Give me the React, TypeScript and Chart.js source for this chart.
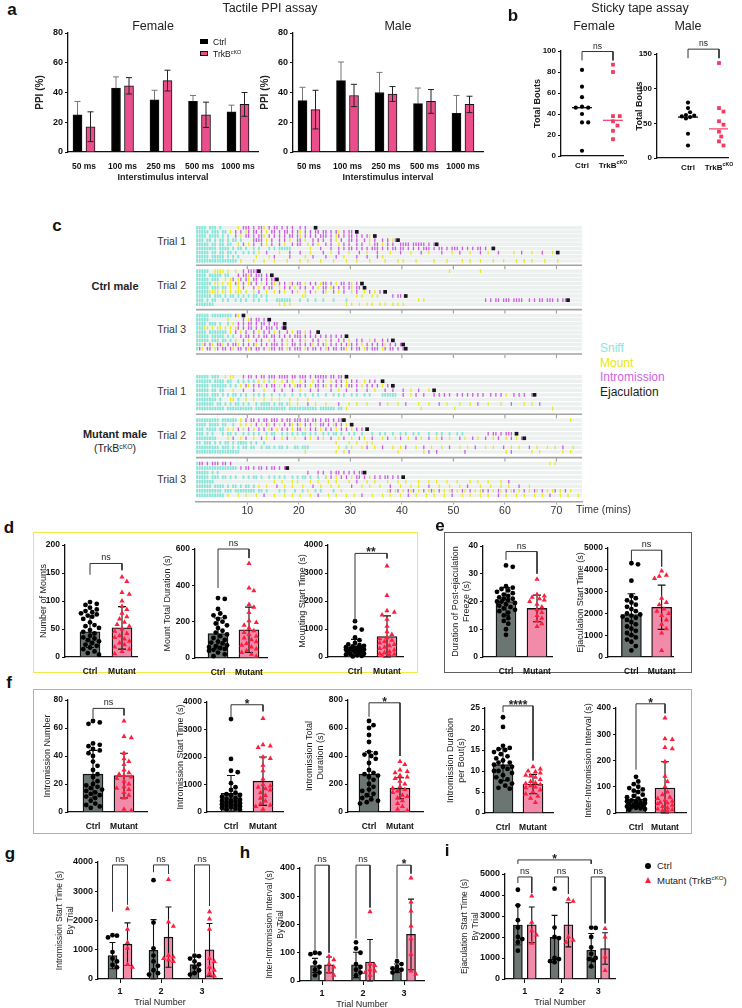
import React, { useEffect, useMemo, useRef } from 'react';
import { Chart, registerables } from 'chart.js';

Chart.register(...registerables);

const FONT = "'Liberation Sans', Arial, Helvetica, sans-serif";
Chart.defaults.font.family = FONT;
Chart.defaults.color = '#111';

/* ======================= DATA ======================= */

// (a) Tactile PPI assay (mean, error)
const ISI_LABELS = ['50 ms', '100 ms', '250 ms', '500 ms', '1000 ms'];
const PPI_MAX = 80;
const PPI_STEP = 20;
const PPI_F_CTRL = [25, 43, 35, 34, 27];
const PPI_F_CTRL_ERR = [9, 7.5, 6.5, 4, 4.5];
const PPI_F_KO = [17, 44.5, 48, 25, 32];
const PPI_F_KO_ERR = [10, 5.5, 7, 8.5, 8];
const PPI_M_CTRL = [34.5, 48, 40, 32.5, 26];
const PPI_M_CTRL_ERR = [9, 12.5, 13.5, 10.5, 12];
const PPI_M_KO = [28.5, 38, 39, 34, 32];
const PPI_M_KO_ERR = [13, 7.5, 5, 8, 5.5];

// (b) Sticky tape assay (total bouts per animal, group line)
const STB_F_CTRL = [82, 66, 56, 47, 46, 46, 40, 32, 32, 5];
const STB_F_KO = [87, 80, 38, 38, 33, 29, 24, 16];
const STB_F_LINE = [46, 34];
const STB_F_SIG = ['ns', 99.5, 91, 91];
const STB_M_CTRL = [80, 72, 66, 62, 61, 60, 59, 57, 35, 18];
const STB_M_KO = [137, 72, 67, 53, 48, 38, 31, 24, 18];
const STB_M_LINE = [59, 42];
const STB_M_SIG = ['ns', 157, 144, 144];

// (c) Ethogram: each row = list of [start minute, pattern]; one char per 0.5 min
// s = sniff, m = mount, i = intromission, e = ejaculation, . = nothing
const TIME_TICKS = [10, 20, 30, 40, 50, 60, 70];
const CTRL_T1 = [
  [[0, 'ssss.sss.s'], [8, 'm.iii.i.iim.i.ii.i.i.i..i.i...e']],
  [[0, 'sssss.sss.' + 'ss.m.i.i.m' + 'i.ii.i.m.i' + 'i.i.ii.i.i' + 'm.i.i.ii.i' + 'i.i.im.i.i' + 'i.e']],
  [[0, 'ssss.ssss.' + 's.s..i.m.i' + 'i.i.iim.i.' + 'i.i.i.ii.i' + 'm.i.i.i.ii' + 'i.i.mi.i.i' + 'i.i.i.im.e']],
  [[0, 'sss.ss.s.s' + 's.s.ss.s..' + '..iiii.m.i' + '..i.i.m..i' + 'i.m..i.i.i' + '..i.m.i..i' + 'i.i..i.m.i' + '..i.i.mie']],
  [[0, 'sssss.ss.s' + 's.ss..m.i.' + 'm.i..i.m.i' + '..i.m..i.i' + 'i..m.i.m..' + 'i.i..m.i.i' + '..i.i..m.i' + 'i.m.i.i..i' + 'iii.iiiii.' + 'i.ie']],
  [[0, 'ssssssss.s' + 'sss.s.ss.s' + '..s.s...s.' + 's.sssss...' + '....m...i.' + '..i..i.i.i' + 'i.i.i.i.ii' + 'i.i.i.ii.i' + 'i.i.i.i.ii' + 'i.i.ii.i.i' + 'ii.i.i.i.i' + 'i.i..e']],
  [[0, 'sssss.ss.s' + 's.ss.s..s.' + 's.s.m..i..' + '..m...i...' + 'i...m....i' + '..m..i...m' + '...i..m...' + 'i....m...i' + '...m...i..' + 'm....i...m' + '..i...m...' + 'i..m...i..' + '...m..i...' + 'm...i...m.' + 'e']],
  [[0, 'sssss.ssss' + 's.s.s.s...' + '...m....m.' + 'i.....i...' + '..m..i....' + 'i...i..m..' + '..i...i...' + 'i.m']],
  [[0, 'ssssssssss' + 'ssssss.m..' + '..m...m...' + 'm....m....' + 'm..m....m.' + '...m....m.' + '..m....m..' + '...m....m.' + 'm....m....' + '..m....m..' + '...m..m...' + 'm....m...m' + '....m..m..' + 'm....m....' + 'm']],
];
const CTRL_T2 = [
  [[0, 'sssss..mmm' + 'm.m..m..i.' + 'iiiie'], [49, 'm'], [55, 'm']],
  [[0, 'ssss.sssss' + '.ss...i.ii' + 'mi.iii.i.e']],
  [[0, 'sssss.sss.' + '.m.mi.mi.i' + 'm.ii.i.i.i' + 'ie']],
  [[0, 'ssssss.mm.' + 'm.mm.im.i.' + 'mi.i.m.i.i' + 'm.i.i.mi.i' + 'i.m.i.i.mi' + 'i.i.m.ii.i' + 'm.i.e']],
  [[0, 'sssss.sss.' + 'ss.m..m.i.' + '..i.m.i.ii' + '..m.i.i.m.' + 'i.i..i.m.i' + 'i.mi.i.i.i' + 'm.ii.e']],
  [[0, 'sssssmmmm.' + 'mm.m.mmm.m' + '..m.i..m..' + 'm.i.m..i.m' + '..m.i.m..i' + 'm..i.m.i..' + 'm.i..m.i.m' + '.i.e']],
  [[0, 'ssssss.sss' + '.s.ss.s.s.' + 's.ss.s.s'], [20.5, 'mm'], [31, 'm.m...m.m'], [38, 'i.ii.e']],
  [[0, 'sss.s.ss..' + 's.s..s.s.s' + '..s.s..s..' + '.ssssss...' + 's..s..s..s' + '...s....s.'], [43, 'm.m'], [56, 'i.i.ii.iii' + '.iiii..i.i' + '.ii.iii.i.' + 'iie']],
  [[0, 'sssssss'], [16, 'm.m.m'], [29, 'm.m..m..m.' + 'm..m.m..m.' + 'm.m']],
];
const CTRL_T3 = [
  [[0, 'sssss.ssss' + 'ssss.im.e']],
  [[0, 'sssss'], [6, 'm'], [9, 'i.mi.ii.i.e']],
  [[0, 'ssss.sss.s' + '..s.m'], [8, 'i.i.ii.i.i' + 'i.i.ii..e']],
  [[0, 'sssmm.m.mm' + '.m.m.mi.i.' + 'ii.i.i.iii' + '.i.ie']],
  [[0, 'ssss.sssss' + 'ss.m.i.m.i' + '..i.m.i.i.' + 'm.i..i.m.i' + 'i.m.i..e']],
  [[0, 'sssss.ssss' + 's.s.s..i.i' + 'i.i.i.ii.i' + 'i.i.i.i.ii' + 'i.i.i.i.i.' + 'i.i.i.i.e']],
  [[0, 'sssss.sss.' + 'ss.s.m..i.' + 'm..i.i..m.' + 'i..i.m.i..' + 'i.m..i.i..' + 'm.i..i.i.m' + '..i.i..m.i' + '..i.i.e']],
  [[0, 'ssmi.im.ii' + 'm.i.iim.i.' + 'i.im.i.i.i' + 'ii.i.m.ii.' + 'i.i.im.i.i' + 'm.i.i.i.im' + 'i.i.m.i.i.' + 'i.im.i.i.i' + 'e']],
  [[0, 'sim.ii.mi.' + 'ii.im.ii.i' + 'mi.ii.i.mi' + 'i.ii.mi.ii' + 'i.mi.ii.i.' + 'mi.ii.iim.' + 'i.ii.mi.ii' + 'i.mi.ii.i.' + 'ie']],
];
const MUT_T1 = [
  [[0, 'sssss.sss.' + '.m.mm...i.' + 'ii.i.ii.ii' + 'i.iiii.ii.' + 'iii.i.iiii' + 'i.ii.ii.e']],
  [[0, 'ssssss.sss' + 's.ss..s.s.' + 's.s.m.m.s.' + 'm..m.i.m..' + 'm.i..m.i.i' + '..m.i.i.m.' + 'i.i..m.i.i' + '..e']],
  [[0, 'sssss.ssss' + 'ss.s.s.m.i' + 'm.i.im.i.i' + 'i.m.i.i.mi' + 'i.i.m.ii.i' + 'm.i.i.i.mi' + 'i.i.m.i.i.' + 'i.m.i.e']],
  [[0, 'sssss.ss.s' + 's...m...i.' + '..i...m...' + 'i..i...i..' + 'm...i..i..' + '..i..m..i.' + '..i...i..m' + '...i..i...' + 'i..m..i...' + 'm.e']],
  [[0, 'sssss.sss.' + 's.s.ss.s.s' + '..s.s.s..s' + '..s.s..s..' + 's.s..s.s..' + 's..s.s.s..' + 's.s..s.s..' + '..ssssss'], [40, 'i..m.i..i.' + '..i.i.i.i.' + '.i.i.i.i.i' + '.i..i.i.i.' + 'm..i.i.i..' + 'ie']],
  [[0, 'ssssssss.s' + '...mm.s..m' + '..m...m..m' + '..m...m..m' + '...m']],
  [[0, 'sssssss.ss' + '.s.s.ss.s.' + 's..s.ssss.' + 's.ss.s'], [18, 'm..m...i..' + 'm...m....i' + '...m..m...' + 'm....i..m.' + '..m..i....' + 'm...m...i.' + '.m....m...' + 'm..i...m..' + '..m...i...' + '.m..m..i']],
  [[0, 'ssssssssss' + 's.ssssssss' + 'ss.sssssss' + 'sssss.ssss' + 'sssssss.ss' + 'ssss.ss'], [29, 'm'], [43.5, 'm'], [50, 'm'], [69, 'm']],
];
const MUT_T2 = [
  [[0, 'sssssssss.' + 'ssssss.m.i' + '.ii.i.ii.i' + 'ii.i.ii.ii' + 'i.ii.ii.i.' + 'ii.i.iie'], [72.5, 'm']],
  [[0, 'ssss.ssss.' + 'ss..s..m.m' + '.m.i.m.im.' + 'i.m.i.im.i' + 'm.i.i.m.ii' + '.i.mi.i.m.' + 'e']],
  [[0, 'sss.ssss.s' + 's.m.m.i.m.' + 'i.m.i.i.mi' + '.m.i.i.m.i' + 'i.m.i.i.m.' + 'i.i.m.i.i.' + 'm.i.i.e']],
  [[0, 'sss.s.s...' + 's.ss.s..s.' + 's.s.s..s.s' + 's..s.s.s.s' + '.ss.s.s..s' + '.s.ss.s..s' + '.s..s...s.' + '.s.s..s..s' + '.s..s.s...' + 's..s.s..s.' + '.s.s'], [56.5, 'i.ii.i.iii' + '.e']],
  [[0, 'ssssssss..' + '..m.i..m.i' + '..m..i.m..' + 'i..m.i..m.' + '..i.m..i.m' + '..i..m.i..' + 'm..i.m..i.' + '..m.i..m.i' + '..m..i.m..' + 'i..m.i..m.' + '..i.m..i.m' + '..i..m.i..' + 'm.i.m.ie']],
  [[0, 'ss.sss.s.s' + '.ss.s.ssss' + '.s.s..s'], [27, 'm....m..m.' + '..m.m']],
  [[0, 'sssssssss.' + 'sss.s.s.ss' + '.ss..s.ss.' + 's.ss.s..ss' + '.sss'], [27.5, 'm..s.m...m' + '.i..m..i..' + '.m..m.i...' + 'm..i..m...' + 'm..i...m..' + 'm..i...m..' + 'm...i..m..' + 'm...i..m..' + '.m..m..i..' + '.m.']],
  [[0, 'ssssssssss' + 'sssssss'], [21, 'm'], [27, 'm..m.i'], [39, 'm'], [44, 'm.i..i'], [52, 'i'], [60, 'm.i'], [65, 'm..m'], [71, 'm..m']],
];
const MUT_T3 = [
  [[0, 'sii.i.iii.' + 'ii.i'], [68.5, 'm.m']],
  [[0, 'ssssssssss' + 'ssssss.i.i' + 'i.i.ii.i.i' + 'i.i.ie']],
  [[0, 'sssss.s.s'], [21.5, 'i...i.i..i' + '.ii.i.i.i.' + 'iie']],
  [[0, 'sssss.sss.' + 'ss.s.s..s.' + 's.ss.s..s.' + 's.s.s..s.s' + '.ss.s..s..' + 's'], [25, 'm.i.m.i.i.' + 'm.ii.i.m.i' + '.i.ii.i.i.' + 'e']],
  [[0, 'sssssss'], [15, 'm..m...m.m' + '....m..m..' + '.m..m....m' + '..i...m..m' + '....m...m.' + '.m....m...' + 'm..m...m..' + '.m....m..m' + '...m....m.' + '.i']],
  [[0, 'ssssss.sss' + 's.s.ss.s.s' + 's.s'], [12, 'm..m...i..' + 'm..m...m..' + '.i..m...m.' + '.m....i...' + 'm..m...m..' + '.i...m...m' + '..m...i...' + 'm...m...m.' + '.i....m...' + 'm...m..m..' + '.i...m']],
  [[0, 'ssssssssss' + '.sss.sssss' + 'sss.ss.s'], [16, 's.s...s..s' + '.m..s.s...' + '.s..m'], [37, 'mi.mi.m.im' + 'i.m.i.mim.' + 'i.m.mi.m.i' + 'm.i.m.mi.i' + '.m.im.i.mi' + '.m.i.m.im.' + 'i.m.mi.m.i' + '.m']],
  [[0, 'ssssssssss' + 's'], [6, 'm...m..m..' + '.m..i...m.' + '..m..m..m.' + '..m..i...m' + '..m...m..m' + '..i...m...' + 'm..m...m..' + 'i..m...m..' + 'm...m..i..' + '.m..m...m.' + '.m...i..m.' + '..m..m...m' + '..m..i...m' + '..m...m..']],
];

// (d)-(f) individual animals, mean, SD, [label, bracket top, left leg, right leg]
const GROUP_LABELS = ['Ctrl', 'Mutant'];
const D1_CTRL = [98, 95, 93, 88, 85, 82, 80, 78, 76, 74, 72, 68, 62, 57, 55, 52, 48, 45, 42, 38, 35, 33, 30, 28, 25, 22, 20, 17, 14, 10, 7, 4];
const D1_MUT = [143, 135, 115, 112, 100, 90, 85, 78, 72, 68, 62, 58, 55, 50, 46, 42, 38, 35, 32, 28, 25, 22, 18, 14, 10, 6];
const D1_MEAN = [45, 52];
const D1_SD = [28, 38];
const D1_SIG = ['ns', 167, 147, 155];
const D2_CTRL = [330, 325, 270, 245, 235, 225, 215, 200, 190, 180, 165, 150, 140, 130, 120, 110, 100, 90, 85, 80, 70, 65, 60, 55, 50, 45, 40, 30, 20, 10];
const D2_MUT = [520, 385, 370, 295, 280, 250, 205, 195, 180, 165, 150, 140, 130, 120, 110, 100, 90, 80, 70, 60, 50, 40, 30, 20, 10];
const D2_MEAN = [135, 155];
const D2_SD = [85, 125];
const D2_SIG = ['ns', 600, 385, 550];
const D3_CTRL = [1280, 1050, 980, 700, 600, 500, 450, 420, 400, 380, 350, 330, 320, 300, 290, 280, 270, 260, 250, 230, 220, 200, 180, 150, 120, 100, 80, 60, 40, 20];
const D3_MUT = [3250, 2200, 1650, 1600, 1500, 1350, 1100, 900, 800, 700, 650, 600, 550, 500, 450, 400, 350, 300, 250, 200, 150, 120, 100, 80, 50];
const D3_MEAN = [340, 730];
const D3_SD = [290, 740];
const D3_SIG = ['**', 3700, 1250, 3520];
const E1_CTRL = [33, 32.5, 25.5, 25, 24.5, 24, 23.5, 23, 22.5, 22, 21.5, 21, 21, 20.5, 20, 20, 19.5, 19, 18.5, 18, 17.5, 17, 16.5, 16, 15, 14, 13, 12, 10, 8];
const E1_MUT = [28, 22.5, 22, 21.5, 21, 20.5, 20, 19, 18, 17, 16, 15, 14, 13, 12, 11];
const E1_MEAN = [20, 17.5];
const E1_SD = [5, 4.8];
const E1_SIG = ['ns', 38, 35, 30];
const E2_CTRL = [4300, 4250, 3500, 2800, 2700, 2600, 2500, 2400, 2300, 2200, 2100, 2000, 1950, 1900, 1850, 1800, 1700, 1600, 1500, 1400, 1300, 1200, 1100, 1000, 900, 800, 700, 500, 300];
const E2_MUT = [3950, 3750, 3700, 3600, 2700, 2500, 2400, 2200, 2100, 2000, 1900, 1700, 1500, 1300, 1100, 300];
const E2_MEAN = [1950, 2280];
const E2_SD = [950, 1015];
const E2_SIG = ['ns', 4900, 4400, 4150];
const F1_CTRL = [65, 64, 63, 49, 48, 47, 45, 44, 42, 40, 36, 33, 30, 27, 25, 22, 20, 19, 18, 17, 16, 15, 14, 13, 12, 11, 10, 8, 6, 5, 4, 3];
const F1_MUT = [65, 54, 53, 42, 38, 36, 34, 30, 28, 27, 26, 25, 24, 22, 20, 18, 17, 16, 14, 12, 10, 2, 1];
const F1_MEAN = [27, 26];
const F1_SD = [17, 16];
const F1_SIG = ['ns', 74, 67, 69];
const F2_CTRL = [3380, 1930, 1500, 1450, 1050, 900, 800, 700, 650, 620, 600, 550, 500, 480, 450, 420, 400, 380, 350, 320, 300, 280, 250, 220, 200, 180, 150, 120, 100, 80];
const F2_MUT = [3400, 2450, 2400, 2350, 2000, 1950, 1700, 1500, 1200, 1000, 950, 900, 850, 800, 700, 600, 500, 400, 300, 250, 200, 100];
const F2_MEAN = [680, 1120];
const F2_SD = [650, 880];
const F2_SIG = ['*', 3900, 3420, 3660];
const F3_CTRL = [650, 620, 600, 550, 500, 430, 420, 410, 400, 380, 350, 300, 280, 270, 260, 250, 230, 200, 180, 160, 150, 130, 120, 100, 90, 80, 70, 60];
const F3_MUT = [360, 340, 300, 290, 280, 260, 250, 240, 220, 200, 180, 170, 160, 150, 140, 120, 110, 100, 80, 60, 40, 20, 10];
const F3_MEAN = [270, 170];
const F3_SD = [160, 75];
const F3_SIG = ['*', 780, 680, 400];
const F4_CTRL = [22.8, 20.5, 16, 15.5, 15.2, 15, 14.5, 14, 13.5, 13, 12.5, 12, 12, 11.5, 11, 11, 10.5, 10, 10, 9.5, 9, 8.5, 8, 7.5, 7, 6.5, 6, 5.8];
const F4_MUT = [11, 10.5, 10, 9.8, 9.5, 9, 8.8, 8.5, 8, 7.5, 7.2, 7, 6.8, 6.5, 6.2, 6, 5.5, 5, 4.5, 4, 3.5, 2.5];
const F4_MEAN = [11.5, 6.9];
const F4_SD = [3.8, 2.3];
const F4_SIG = ['****', 25.5, 24, 12.5];
const F5_CTRL = [138, 120, 110, 100, 95, 90, 85, 80, 70, 65, 60, 55, 50, 48, 45, 42, 40, 38, 35, 32, 30, 28, 25, 22, 20, 18, 15, 12];
const F5_MUT = [362, 283, 280, 250, 245, 195, 140, 120, 100, 80, 70, 60, 55, 50, 45, 40, 38, 35, 30, 25, 20, 15, 12, 10, 8];
const F5_MEAN = [53, 95];
const F5_SD = [32, 100];
const F5_SIG = ['*', 416, 165, 380];

// (g)-(i) by trial
const TRIAL_LABELS = ['1', '2', '3'];
const G_CTRL_T1 = [1500, 1480, 1420, 920, 700, 600, 480, 400];
const G_CTRL_T2 = [3380, 1930, 1050, 800, 600, 450, 300, 200, 150];
const G_CTRL_T3 = [800, 780, 700, 600, 500, 400, 300, 200, 150];
const G_MUT_T1 = [2400, 1700, 1250, 1050, 500, 400];
const G_MUT_T2 = [3400, 1950, 1800, 800, 750, 700, 650, 600];
const G_MUT_T3 = [2300, 2050, 1700, 700, 600, 400, 300, 200, 100];
const G_CTRL_MEAN = [800, 980, 490];
const G_CTRL_SD = [450, 1050, 260];
const G_MUT_MEAN = [1190, 1430, 1000];
const G_MUT_SD = [730, 1030, 900];
const G_SIG = [['ns', 3900, 2300, 2550], ['ns', 3900, 3650, 3600], ['ns', 3900, 900, 2500]];
const H_CTRL_T1 = [100, 98, 95, 65, 50, 40, 30, 20];
const H_CTRL_T2 = [137, 115, 100, 60, 50, 40, 30, 20];
const H_CTRL_T3 = [70, 60, 50, 45, 40, 35, 30];
const H_MUT_T1 = [88, 75, 60, 50, 30, 20];
const H_MUT_T2 = [245, 60, 55, 40, 35, 30, 20];
const H_MUT_T3 = [365, 280, 248, 195, 150, 95, 35, 25];
const H_CTRL_MEAN = [55, 57, 45];
const H_CTRL_SD = [25, 45, 15];
const H_MUT_MEAN = [57, 67, 165];
const H_MUT_SD = [28, 80, 125];
const H_SIG = [['ns', 410, 110, 100], ['ns', 410, 150, 260], ['*', 410, 80, 380]];
const I_CTRL_T1 = [4250, 3500, 2800, 2450, 2000, 1900, 1750, 1350];
const I_CTRL_T2 = [4300, 2450, 2000, 1950, 1000, 950, 850, 800];
const I_CTRL_T3 = [2450, 2430, 2000, 1500, 1200, 1000, 950, 900, 600];
const I_MUT_T1 = [3950, 2700, 2300, 2100, 1700];
const I_MUT_T2 = [3800, 3700, 2000, 1850, 1750];
const I_MUT_T3 = [2400, 2000, 1050, 400];
const I_CTRL_MEAN = [2570, 1980, 1370];
const I_CTRL_SD = [950, 1050, 800];
const I_MUT_MEAN = [2580, 2580, 1450];
const I_MUT_SD = [850, 1050, 750];
const I_SIG = [['ns', 4860, 4570, 4100], ['ns', 4860, 4570, 4050], ['ns', 4860, 2570, 2650]];
const I_SIG_ALL = ['*', 5670, 5480, 5480];

/* ======================= STYLE / LAYOUT ======================= */

const CTRL_BAR = '#6b7572';
const MUT_BAR = '#f28aa9';
const MUT_PT = '#ff1f3d';
const PPI_KO = '#ea4f8b';
const STB_KO = '#f23d62';
const SNIFF_C = '#84e6d7';
const MOUNT_C = '#ebe81c';
const INTRO_C = '#cf58e4';
const EJAC_C = '#1b1320';

const BLOCK_Y = [224, 268, 313, 375, 419, 463];
const ROW_STEP = [4.2, 4.2, 4.2, 4.6, 4.6, 4.6];
const SEP_Y = [262, 307, 352, 413, 457];

type Geo = { axisX: number; x1: number; yTop: number; y0: number; titleX: number };

const GEO_A_F: Geo = { axisX: 68, x1: 258, yTop: 33, y0: 152, titleX: 40 };
const GEO_A_M: Geo = { axisX: 293, x1: 483, yTop: 33, y0: 152, titleX: 265 };
const GEO_B_F: Geo = { axisX: 561, x1: 623, yTop: 51, y0: 156, titleX: 537 };
const GEO_B_M: Geo = { axisX: 657, x1: 728, yTop: 54, y0: 158, titleX: 639 };
const GEO_D1: Geo = { axisX: 65, x1: 137, yTop: 545, y0: 657, titleX: 43 };
const GEO_D2: Geo = { axisX: 195, x1: 267, yTop: 549, y0: 658, titleX: 167 };
const GEO_D3: Geo = { axisX: 328, x1: 403, yTop: 545, y0: 657, titleX: 302 };
const GEO_E1: Geo = { axisX: 483, x1: 552, yTop: 546, y0: 657, titleX: 455 };
const GEO_E2: Geo = { axisX: 608, x1: 675, yTop: 548, y0: 657, titleX: 580 };
const GEO_F1: Geo = { axisX: 68, x1: 147, yTop: 700, y0: 812, titleX: 47 };
const GEO_F2: Geo = { axisX: 207, x1: 283, yTop: 702, y0: 812, titleX: 180 };
const GEO_F3: Geo = { axisX: 348, x1: 423, yTop: 700, y0: 812, titleX: 309 };
const GEO_F4: Geo = { axisX: 485, x1: 553, yTop: 708, y0: 813, titleX: 450 };
const GEO_F5: Geo = { axisX: 616, x1: 686, yTop: 708, y0: 813, titleX: 588 };
const GEO_G: Geo = { axisX: 98, x1: 222, yTop: 862, y0: 979, titleX: 60 };
const GEO_H: Geo = { axisX: 300, x1: 424, yTop: 868, y0: 981, titleX: 270 };
const GEO_I: Geo = { axisX: 505, x1: 615, yTop: 874, y0: 979, titleX: 465 };

const CATS_D1 = [90, 122];
const CATS_D2 = [218, 249];
const CATS_D3 = [355, 387];
const CATS_E1 = [506, 537];
const CATS_E2 = [632, 663];
const CATS_F1 = [93, 124];
const CATS_F2 = [231, 263];
const CATS_F3 = [369, 400];
const CATS_F4 = [503, 533];
const CATS_F5 = [636, 665];
const CATS_G = [120, 161, 202];
const CATS_H = [322, 363, 404];
const CATS_I = [525, 562, 598];

/* ======================= HELPERS ======================= */

function frame(g: Geo, padTop: number, hx: number, titleLh: number, rp = 8) {
  const x = Math.round(g.titleX - titleLh / 2);
  const y = Math.round(g.yTop - padTop);
  const wy = g.axisX - x;
  const pw = g.x1 - g.axisX;
  const ph = g.y0 - g.yTop;
  const pt = g.yTop - y;
  const w = Math.ceil(wy + pw + rp);
  const h = Math.ceil(pt + ph + hx);
  return { x, y, w, h, wy, pt, rp: w - wy - pw, hx: h - pt - ph };
}

function baseOpts(fr: any) {
  return {
    responsive: false,
    animation: false,
    devicePixelRatio: 1,
    events: [],
    layout: { padding: { left: 0, top: fr.pt, right: fr.rp, bottom: 0 } },
  };
}

function yAxis(fr: any, max: number, step: number, title: any, tSize: number, tWeight: any, tickSize: number) {
  return {
    min: 0,
    max,
    ticks: { stepSize: step, callback: (v: any) => String(v), font: { size: tickSize, weight: 'bold' }, color: '#111', padding: 2 },
    grid: { drawOnChartArea: false, drawTicks: true, tickLength: 3, color: '#111', lineWidth: 1 },
    border: { color: '#111', width: 1.3 },
    title: { display: true, text: title, font: { size: tSize, weight: tWeight, lineHeight: 1.2 }, color: '#222', padding: 0 },
    afterFit: (s: any) => { s.width = fr.wy; },
  };
}

function xAxis(fr: any, min: number, max: number, vals: number[], labels: string[], o: any) {
  return {
    type: 'linear',
    offset: false,
    min,
    max,
    afterBuildTicks: (s: any) => { s.ticks = vals.map((v) => ({ value: v })); },
    ticks: {
      display: o.showLabels !== false,
      callback: (_v: any, i: number) => labels[i] ?? '',
      font: { size: o.size || 8.5, weight: 'bold' },
      color: '#111',
      padding: o.pad ?? 5,
      autoSkip: false,
      maxRotation: 0,
      minRotation: 0,
    },
    grid: { display: !!o.tickMarks, offset: false, drawOnChartArea: false, drawTicks: true, tickLength: 4, color: '#111' },
    border: { color: '#111', width: 1.3 },
    title: o.title
      ? { display: true, text: o.title, font: { size: o.titleSize || 9, weight: o.titleWeight || 'normal', lineHeight: 1.2 }, color: '#222', padding: 0 }
      : { display: false },
    afterFit: (s: any) => { s.height = fr.hx; },
  };
}

function swarm(vals: number[], pxY: number, pxX: number, r: number, maxOff: number) {
  const idx = vals.map((_, i) => i).sort((a, b) => vals[b] - vals[a]);
  const placed: { x: number; y: number }[] = [];
  const out = new Array(vals.length).fill(0);
  const cands = [0];
  for (let k = 1; k <= 14; k++) cands.push(k * r * 0.9, -k * r * 0.9);
  for (const i of idx) {
    const y = vals[i] * pxY;
    let best = 0;
    let bestScore = -1;
    for (const c of cands) {
      if (Math.abs(c) > maxOff) continue;
      let md = Infinity;
      for (const p of placed) {
        const d = Math.hypot(p.x - c, p.y - y);
        if (d < md) md = d;
      }
      if (md >= 2 * r) { best = c; break; }
      if (md > bestScore) { bestScore = md; best = c; }
    }
    placed.push({ x: best, y });
    out[i] = best / pxX;
  }
  return out;
}

function errLines(groups: any[], capU: number) {
  const d: any[] = [];
  for (const g of groups) {
    const lo = Math.max(0, g.mean - g.sd);
    const hi = g.mean + g.sd;
    d.push({ x: g.x, y: lo }, { x: g.x, y: hi }, { x: g.x, y: null });
    d.push({ x: g.x - capU, y: hi }, { x: g.x + capU, y: hi }, { x: g.x, y: null });
    d.push({ x: g.x - capU, y: lo }, { x: g.x + capU, y: lo }, { x: g.x, y: null });
  }
  return d;
}

function bracket(x1: number, x2: number, s: any[]) {
  return [{ x: x1, y: s[2] }, { x: x1, y: s[1] }, { x: x2, y: s[1] }, { x: x2, y: s[3] }, { x: x2, y: null }];
}

const sigPlugin = {
  id: 'sig',
  afterDatasetsDraw(chart: any, _a: any, opts: any) {
    const items = opts && opts.items;
    if (!items || !items.length) return;
    const ctx = chart.ctx;
    const xs = chart.scales.x;
    const ys = chart.scales.y;
    ctx.save();
    ctx.fillStyle = '#222';
    ctx.textAlign = 'center';
    ctx.textBaseline = 'alphabetic';
    for (const it of items) {
      const star = String(it.text).indexOf('*') >= 0;
      ctx.font = star ? `bold ${opts.star || 12}px ${FONT}` : `${opts.ns || 9}px ${FONT}`;
      ctx.fillText(it.text, xs.getPixelForValue(it.x), ys.getPixelForValue(it.y) + (star ? 3 : -3));
    }
    ctx.restore();
  },
};

const xLabPlugin = {
  id: 'xlab',
  afterDraw(chart: any, _a: any, o: any) {
    if (!o || !o.items || !o.items.length) return;
    const ctx = chart.ctx;
    const xs = chart.scales.x;
    const y = chart.chartArea.bottom + o.dy;
    ctx.save();
    ctx.fillStyle = '#111';
    ctx.textBaseline = 'middle';
    ctx.textAlign = 'left';
    for (const it of o.items) {
      ctx.font = `bold ${o.size}px ${FONT}`;
      const w1 = ctx.measureText(it.main).width;
      ctx.font = `bold ${o.size * 0.65}px ${FONT}`;
      const w2 = it.sup ? ctx.measureText(it.sup).width : 0;
      const x0 = xs.getPixelForValue(it.v) - (w1 + w2) / 2;
      ctx.font = `bold ${o.size}px ${FONT}`;
      ctx.fillText(it.main, x0, y);
      if (it.sup) {
        ctx.font = `bold ${o.size * 0.65}px ${FONT}`;
        ctx.fillText(it.sup, x0 + w1, y - o.size * 0.38);
      }
    }
    ctx.restore();
  },
};

/* ======================= CHART BUILDERS ======================= */

function ppiBuild(geo: Geo, ctrl: number[], ctrlE: number[], ko: number[], koE: number[]) {
  const fr = frame(geo, 10, 31, 12, 4);
  const first = 16;
  const unit = 38.5;
  const off = 6.5 / unit;
  const xMin = 1 - first / unit;
  const xMax = 5 + (geo.x1 - (geo.axisX + first + 4 * unit)) / unit;
  const bars: any[] = [];
  const colors: string[] = [];
  ISI_LABELS.forEach((_, i) => {
    bars.push({ x: i + 1 - off, y: ctrl[i] }, { x: i + 1 + off, y: ko[i] });
    colors.push('#000', PPI_KO);
  });
  const cg = ctrl.map((m, i) => ({ x: i + 1 - off, mean: m, sd: ctrlE[i] }));
  const kg = ko.map((m, i) => ({ x: i + 1 + off, mean: m, sd: koE[i] }));
  const config = {
    type: 'bar',
    data: {
      datasets: [
        { type: 'bar', data: bars, backgroundColor: colors, borderColor: '#111', borderWidth: 1, barThickness: 9, order: 10 },
        { type: 'line', data: errLines(cg, 3 / unit), borderColor: '#777', borderWidth: 1, pointRadius: 0, order: 12, clip: false },
        { type: 'line', data: errLines(kg, 3 / unit), borderColor: '#222', borderWidth: 1, pointRadius: 0, order: 5, clip: false },
      ],
    },
    options: {
      ...baseOpts(fr),
      plugins: { legend: { display: false }, tooltip: { enabled: false } },
      scales: {
        x: xAxis(fr, xMin, xMax, [1, 2, 3, 4, 5], ISI_LABELS, { size: 8.5, pad: 6, title: 'Interstimulus interval', titleSize: 9, titleWeight: 'bold' }),
        y: yAxis(fr, PPI_MAX, PPI_STEP, 'PPI (%)', 10, 'bold', 9),
      },
    },
  };
  return { fr, config };
}

function stbBuild(geo: Geo, ctrl: number[], ko: number[], line: number[], sig: any[], yMax: number, step: number, c1: number, c2: number) {
  const fr = frame(geo, 18, 16, 10.8, 6);
  const unit = c2 - c1;
  const xMin = 1 - (c1 - geo.axisX) / unit;
  const xMax = 2 + (geo.x1 - c2) / unit;
  const pxY = (geo.y0 - geo.yTop) / yMax;
  const jc = swarm(ctrl, pxY, unit, 2.3, 7);
  const jk = swarm(ko, pxY, unit, 2.5, 7);
  const half = 10 / unit;
  const config = {
    type: 'scatter',
    data: {
      datasets: [
        { type: 'scatter', data: ctrl.map((v, i) => ({ x: 1 + jc[i], y: v })), pointStyle: 'circle', pointRadius: 2.1, backgroundColor: '#000', borderWidth: 0, order: 2, clip: false },
        { type: 'scatter', data: ko.map((v, i) => ({ x: 2 + jk[i], y: v })), pointStyle: 'rect', pointRadius: 2.7, backgroundColor: STB_KO, borderWidth: 0, order: 2, clip: false },
        { type: 'line', data: [{ x: 1 - half, y: line[0] }, { x: 1 + half, y: line[0] }], borderColor: '#000', borderWidth: 1.2, pointRadius: 0, order: 1 },
        { type: 'line', data: [{ x: 2 - half, y: line[1] }, { x: 2 + half, y: line[1] }], borderColor: STB_KO, borderWidth: 1.2, pointRadius: 0, order: 1 },
        { type: 'line', data: bracket(1, 2, sig), borderColor: '#333', borderWidth: 1, pointRadius: 0, order: 1, clip: false },
      ],
    },
    options: {
      ...baseOpts(fr),
      plugins: {
        legend: { display: false },
        tooltip: { enabled: false },
        sig: { items: [{ x: 1.5, y: sig[1], text: sig[0] }], ns: 8.5 },
        xlab: { items: [{ v: 1, main: 'Ctrl' }, { v: 2, main: 'TrkB', sup: 'cKO' }], dy: 10, size: 8 },
      },
      scales: {
        x: xAxis(fr, xMin, xMax, [1, 2], ['', ''], { showLabels: false }),
        y: yAxis(fr, yMax, step, 'Total Bouts', 9, 'bold', 8),
      },
    },
    plugins: [sigPlugin, xLabPlugin],
  };
  return { fr, config };
}

function barDotBuild(o: any) {
  const g: Geo = o.geo;
  const lh = o.titleSize * 1.2;
  const fr = frame(g, o.padTop, o.hx, lh);
  const cats: number[] = o.cats;
  const n = cats.length;
  const unit = cats[1] - cats[0];
  const xMin = 1 - (cats[0] - g.axisX) / unit;
  const xMax = n + (g.x1 - cats[n - 1]) / unit;
  const pxY = (g.y0 - g.yTop) / o.yMax;
  const groups: any[] = o.groups;
  const datasets: any[] = [];
  datasets.push({
    type: 'bar',
    data: groups.map((gr) => ({ x: gr.x, y: gr.mean })),
    backgroundColor: groups.map((gr) => (gr.mut ? MUT_BAR : CTRL_BAR)),
    borderColor: '#111',
    borderWidth: 1.3,
    barThickness: o.barPx,
    order: 10,
  });
  datasets.push({ type: 'line', data: errLines(groups, o.capPx / unit), borderColor: '#111', borderWidth: 1.1, pointRadius: 0, order: 6, clip: false });
  groups.forEach((gr) => {
    const jit = swarm(gr.pts, pxY, unit, gr.mut ? 2.7 : 2.5, o.maxOff);
    datasets.push({
      type: 'scatter',
      data: gr.pts.map((v: number, i: number) => ({ x: gr.x + jit[i], y: v })),
      pointStyle: gr.mut ? 'triangle' : 'circle',
      pointRadius: gr.mut ? 3 : 2.4,
      backgroundColor: gr.mut ? MUT_PT : '#000',
      borderWidth: 0,
      order: 2,
      clip: false,
    });
  });
  const br: any[] = [];
  const items: any[] = [];
  o.sig.forEach((s: any) => {
    br.push(...bracket(s.x1, s.x2, s.v));
    items.push({ x: (s.x1 + s.x2) / 2, y: s.v[1], text: s.v[0] });
  });
  datasets.push({ type: 'line', data: br, borderColor: '#333', borderWidth: 1, pointRadius: 0, order: 1, clip: false });
  const config = {
    type: 'bar',
    data: { datasets },
    options: {
      ...baseOpts(fr),
      plugins: { legend: { display: false }, tooltip: { enabled: false }, sig: { items, ns: 9, star: o.starSize || 12 } },
      scales: {
        x: xAxis(fr, xMin, xMax, cats.map((_, i) => i + 1), o.labels, { size: o.tickSize || 8.5, pad: o.xPad ?? 6, tickMarks: o.tickMarks, title: o.xTitle, titleSize: 9 }),
        y: yAxis(fr, o.yMax, o.step, o.title, o.titleSize, 'normal', o.tickSize || 8.5),
      },
    },
    plugins: [sigPlugin],
  };
  return { fr, config };
}

function twoGroup(geo: Geo, cats: number[], ctrl: number[], mut: number[], mean: number[], sd: number[], sig: any[], yMax: number, step: number, title: any, padTop: number) {
  return () =>
    barDotBuild({
      geo, cats, yMax, step, title, titleSize: 9, padTop, hx: 18, barPx: 20, capPx: 4, maxOff: 9,
      labels: GROUP_LABELS,
      groups: [
        { x: 1, mean: mean[0], sd: sd[0], pts: ctrl, mut: false },
        { x: 2, mean: mean[1], sd: sd[1], pts: mut, mut: true },
      ],
      sig: [{ x1: 1, x2: 2, v: sig }],
    });
}

function trialChart(geo: Geo, cats: number[], offPx: number, ctrlPts: number[][], mutPts: number[][], cMean: number[], cSd: number[], mMean: number[], mSd: number[], sigs: any[], extra: any[] | null, yMax: number, step: number, title: string[]) {
  return () => {
    const unit = cats[1] - cats[0];
    const off = offPx / unit;
    const groups: any[] = [];
    const sig: any[] = [];
    TRIAL_LABELS.forEach((_, k) => {
      groups.push({ x: k + 1 - off, mean: cMean[k], sd: cSd[k], pts: ctrlPts[k], mut: false });
      groups.push({ x: k + 1 + off, mean: mMean[k], sd: mSd[k], pts: mutPts[k], mut: true });
      sig.push({ x1: k + 1 - off, x2: k + 1 + off, v: sigs[k] });
    });
    if (extra) sig.push({ x1: 1 - off, x2: 3 - off, v: extra });
    return barDotBuild({
      geo, cats, yMax, step, title, titleSize: 8.5, padTop: 28, hx: 29, barPx: 9, capPx: 3, maxOff: 6,
      labels: TRIAL_LABELS, groups, sig, tickMarks: true, xTitle: 'Trial Number', xPad: 3, tickSize: 9,
    });
  };
}

function ethogramBuild() {
  const blocks: any[] = [CTRL_T1, CTRL_T2, CTRL_T3, MUT_T1, MUT_T2, MUT_T3];
  const pts: any = { s: [], m: [], i: [], e: [] };
  const bg: any[] = [];
  blocks.forEach((rows: any[], b: number) => {
    rows.forEach((segs: any[], r: number) => {
      const y = BLOCK_Y[b] + r * ROW_STEP[b];
      bg.push({ x: 0, y }, { x: 75, y }, { x: 75, y: null });
      segs.forEach(([t0, pat]: [number, string]) => {
        for (let j = 0; j < pat.length; j++) {
          const list = pts[pat[j]];
          if (list) list.push({ x: t0 + j * 0.5 + 0.25, y });
        }
      });
    });
  });
  const sep: any[] = [];
  const sepTicks: any[] = [];
  SEP_Y.forEach((y) => {
    sep.push({ x: 0, y }, { x: 75, y }, { x: 75, y: null });
    TIME_TICKS.forEach((t) => sepTicks.push({ x: t, y: y + 2.2 }));
  });
  const fr = { x: 190, y: 216, w: 398, h: 306, pt: 2, rp: 4 };
  const tick = (data: any[], color: string, order: number, bw: number) => ({
    type: 'scatter', data, pointStyle: 'line', pointRotation: 90, pointRadius: 1.8,
    borderColor: color, borderWidth: bw, order, clip: false,
  });
  const config = {
    type: 'scatter',
    data: {
      datasets: [
        { type: 'line', data: bg, borderColor: '#ecf1ef', borderWidth: 3.4, pointRadius: 0, order: 20, borderCapStyle: 'butt' },
        { type: 'line', data: sep, borderColor: '#a3a3a3', borderWidth: 1.6, pointRadius: 0, order: 19, borderCapStyle: 'butt' },
        tick(sepTicks, '#a3a3a3', 18, 1.2),
        tick(pts.s, SNIFF_C, 8, 1.8),
        tick(pts.m, MOUNT_C, 6, 1.3),
        tick(pts.i, INTRO_C, 4, 1.3),
        { type: 'scatter', data: pts.e, pointStyle: 'rect', pointRadius: 2.6, backgroundColor: EJAC_C, borderWidth: 0, order: 1, clip: false },
      ],
    },
    options: {
      ...baseOpts(fr),
      plugins: { legend: { display: false }, tooltip: { enabled: false } },
      scales: {
        x: {
          type: 'linear', min: 0, max: 75, offset: false,
          afterBuildTicks: (s: any) => { s.ticks = TIME_TICKS.map((v) => ({ value: v })); },
          ticks: { font: { size: 10.5 }, color: '#333', padding: 0, maxRotation: 0, autoSkip: false },
          grid: { drawOnChartArea: false, drawTicks: true, tickLength: 2.5, color: '#a3a3a3' },
          border: { color: '#a3a3a3', width: 1.6 },
          afterFit: (s: any) => { s.height = 20; },
        },
        y: { display: false, min: 218, max: 502, reverse: true },
      },
    },
  };
  return { fr, config };
}

/* ======================= REACT ======================= */

function ChartCanvas({ build }: { build: () => any }) {
  const ref = useRef<HTMLCanvasElement | null>(null);
  const fr = useMemo(() => build().fr, []);
  useEffect(() => {
    const { config } = build();
    const ch = new Chart(ref.current as HTMLCanvasElement, config);
    return () => ch.destroy();
  }, []);
  return (
    <canvas
      ref={ref}
      width={fr.w}
      height={fr.h}
      style={{ position: 'absolute', left: fr.x, top: fr.y, width: fr.w, height: fr.h }}
    />
  );
}

function T({ x, y, a = 'c', s = 10, w = 400, c = '#111', children }: any) {
  const tx = a === 'l' ? '0' : a === 'r' ? '-100%' : '-50%';
  return (
    <div
      style={{
        position: 'absolute', left: x, top: y, transform: `translate(${tx},-50%)`, fontSize: s,
        fontWeight: w, color: c, fontFamily: FONT, whiteSpace: 'nowrap', lineHeight: 1,
      }}
    >
      {children}
    </div>
  );
}

const Sup = ({ children }: any) => (
  <span style={{ fontSize: '0.65em', position: 'relative', top: '-0.5em' }}>{children}</span>
);

function Box({ x1, y1, x2, y2, c }: any) {
  return <div style={{ position: 'absolute', left: x1, top: y1, width: x2 - x1, height: y2 - y1, border: `1px solid ${c}`, boxSizing: 'border-box' }} />;
}

const CHARTS = [
  () => ppiBuild(GEO_A_F, PPI_F_CTRL, PPI_F_CTRL_ERR, PPI_F_KO, PPI_F_KO_ERR),
  () => ppiBuild(GEO_A_M, PPI_M_CTRL, PPI_M_CTRL_ERR, PPI_M_KO, PPI_M_KO_ERR),
  () => stbBuild(GEO_B_F, STB_F_CTRL, STB_F_KO, STB_F_LINE, STB_F_SIG, 100, 20, 582, 613),
  () => stbBuild(GEO_B_M, STB_M_CTRL, STB_M_KO, STB_M_LINE, STB_M_SIG, 150, 50, 688, 719),
  ethogramBuild,
  twoGroup(GEO_D1, CATS_D1, D1_CTRL, D1_MUT, D1_MEAN, D1_SD, D1_SIG, 200, 50, 'Number of Mounts', 16),
  twoGroup(GEO_D2, CATS_D2, D2_CTRL, D2_MUT, D2_MEAN, D2_SD, D2_SIG, 600, 200, 'Mount Total Duration (s)', 16),
  twoGroup(GEO_D3, CATS_D3, D3_CTRL, D3_MUT, D3_MEAN, D3_SD, D3_SIG, 4000, 1000, 'Mounting Start Time (s)', 16),
  twoGroup(GEO_E1, CATS_E1, E1_CTRL, E1_MUT, E1_MEAN, E1_SD, E1_SIG, 40, 10, ['Duration of Post-ejaculation', 'Freeze (s)'], 16),
  twoGroup(GEO_E2, CATS_E2, E2_CTRL, E2_MUT, E2_MEAN, E2_SD, E2_SIG, 5000, 1000, 'Ejaculation Start Time (s)', 16),
  twoGroup(GEO_F1, CATS_F1, F1_CTRL, F1_MUT, F1_MEAN, F1_SD, F1_SIG, 80, 20, 'Intromission Number', 14),
  twoGroup(GEO_F2, CATS_F2, F2_CTRL, F2_MUT, F2_MEAN, F2_SD, F2_SIG, 4000, 1000, 'Intromission Start Time (s)', 14),
  twoGroup(GEO_F3, CATS_F3, F3_CTRL, F3_MUT, F3_MEAN, F3_SD, F3_SIG, 800, 200, ['Intromission Total', 'Duration (s)'], 14),
  twoGroup(GEO_F4, CATS_F4, F4_CTRL, F4_MUT, F4_MEAN, F4_SD, F4_SIG, 25, 5, ['Intromission Duration', 'per Bout(s)'], 14),
  twoGroup(GEO_F5, CATS_F5, F5_CTRL, F5_MUT, F5_MEAN, F5_SD, F5_SIG, 400, 100, 'Inter-Intromission Interval (s)', 14),
  trialChart(GEO_G, CATS_G, 7.5, [G_CTRL_T1, G_CTRL_T2, G_CTRL_T3], [G_MUT_T1, G_MUT_T2, G_MUT_T3], G_CTRL_MEAN, G_CTRL_SD, G_MUT_MEAN, G_MUT_SD, G_SIG, null, 4000, 1000, ['Intromission Start Time (s)', 'By Trial']),
  trialChart(GEO_H, CATS_H, 7, [H_CTRL_T1, H_CTRL_T2, H_CTRL_T3], [H_MUT_T1, H_MUT_T2, H_MUT_T3], H_CTRL_MEAN, H_CTRL_SD, H_MUT_MEAN, H_MUT_SD, H_SIG, null, 400, 100, ['Inter-Intromission Interval (s)', 'By Trial']),
  trialChart(GEO_I, CATS_I, 7, [I_CTRL_T1, I_CTRL_T2, I_CTRL_T3], [I_MUT_T1, I_MUT_T2, I_MUT_T3], I_CTRL_MEAN, I_CTRL_SD, I_MUT_MEAN, I_MUT_SD, I_SIG, I_SIG_ALL, 5000, 1000, ['Ejaculation Start Time (s)', 'By Trial']),
];

const TRIAL_Y = [241, 285, 329, 391, 435, 479];

export default function App() {
  return (
    <div style={{ position: 'absolute', left: 0, top: 0, width: 742, height: 1008, background: '#fff', overflow: 'hidden', fontFamily: FONT }}>
      <Box x1={33} y1={532} x2={418} y2={673} c="#efe94a" />
      <Box x1={444} y1={532} x2={692} y2={673} c="#5f5f5f" />
      <Box x1={33} y1={689} x2={692} y2={834} c="#ec8dbd" />

      {CHARTS.map((b, i) => <ChartCanvas key={i} build={b} />)}

      {/* panel letters */}
      <T x={12} y={9} s={17} w={700}>a</T>
      <T x={513} y={15} s={17} w={700}>b</T>
      <T x={57} y={225} s={17} w={700}>c</T>
      <T x={9} y={527} s={17} w={700}>d</T>
      <T x={440} y={525} s={17} w={700}>e</T>
      <T x={9} y={682} s={17} w={700}>f</T>
      <T x={10} y={853} s={17} w={700}>g</T>
      <T x={245} y={852} s={17} w={700}>h</T>
      <T x={447} y={850} s={17} w={700}>i</T>

      {/* a titles & legend */}
      <T x={270} y={8} s={12.5} c="#222">Tactile PPI assay</T>
      <T x={153} y={26} s={12.5} c="#222">Female</T>
      <T x={398} y={26} s={12.5} c="#222">Male</T>
      <div style={{ position: 'absolute', left: 200, top: 39, width: 8, height: 5, background: '#000' }} />
      <T x={213} y={41.5} a="l" s={8.5}>Ctrl</T>
      <div style={{ position: 'absolute', left: 200, top: 51, width: 8, height: 5, background: PPI_KO, border: '1px solid #111', boxSizing: 'border-box' }} />
      <T x={213} y={53.5} a="l" s={8.5}>TrkB<Sup>cKO</Sup></T>

      {/* b titles */}
      <T x={640} y={8} s={12.5} c="#222">Sticky tape assay</T>
      <T x={594} y={26} s={12.5} c="#222">Female</T>
      <T x={688} y={26} s={12.5} c="#222">Male</T>

      {/* c labels */}
      {['Trial 1', 'Trial 2', 'Trial 3', 'Trial 1', 'Trial 2', 'Trial 3'].map((t, i) => (
        <T key={i} x={186} y={TRIAL_Y[i]} a="r" s={10.5} c="#333">{t}</T>
      ))}
      <T x={115} y={286} s={11} w={600} c="#222">Ctrl male</T>
      <T x={115} y={434} s={11} w={600} c="#222">Mutant male</T>
      <T x={115} y={448} s={10.5} c="#222">(TrkB<Sup>cKO</Sup>)</T>
      <T x={600} y={348} a="l" s={12} c="#8be6d8">Sniff</T>
      <T x={600} y={363} a="l" s={12} c="#e9e60e">Mount</T>
      <T x={600} y={377} a="l" s={12} c="#d062e6">Intromission</T>
      <T x={600} y={392} a="l" s={12} c="#222">Ejaculation</T>
      <T x={576} y={509} a="l" s={10.5} c="#333">Time (mins)</T>

      {/* i legend */}
      <div style={{ position: 'absolute', left: 645, top: 863, width: 6, height: 6, borderRadius: '50%', background: '#000' }} />
      <T x={657} y={866} a="l" s={9.5} c="#222">Ctrl</T>
      <div style={{ position: 'absolute', left: 644.5, top: 877, width: 0, height: 0, borderLeft: '3.5px solid transparent', borderRight: '3.5px solid transparent', borderBottom: `6px solid ${MUT_PT}` }} />
      <T x={657} y={880.5} a="l" s={9.5} c="#222">Mutant (TrkB<Sup>cKO</Sup>)</T>
    </div>
  );
}
